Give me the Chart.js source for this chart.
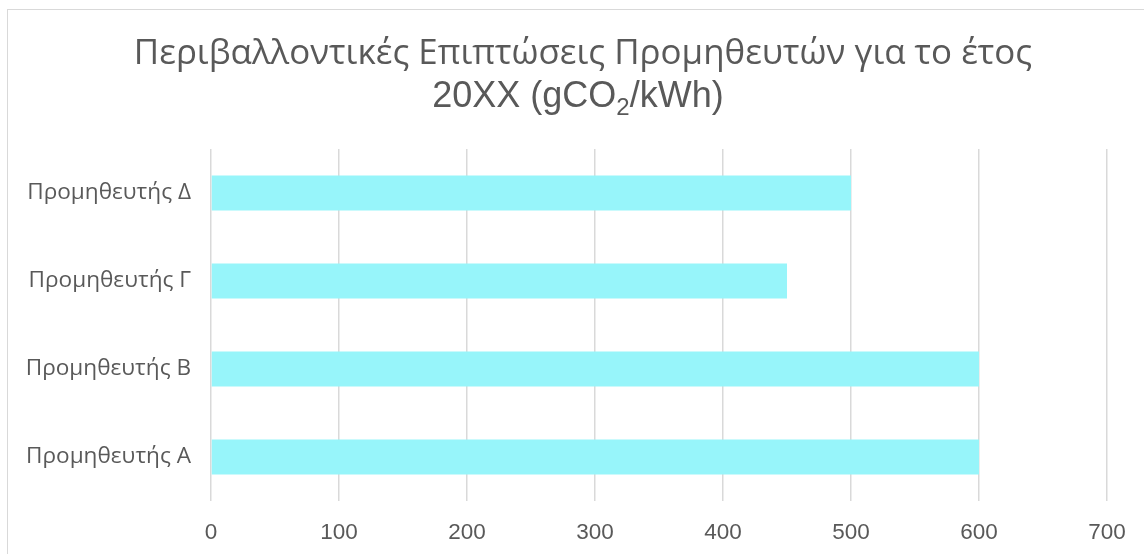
<!DOCTYPE html>
<html>
<head>
<meta charset="utf-8">
<script src="https://cdn.jsdelivr.net/npm/chart.js@4/dist/chart.umd.min.js"></script>
<style>
  html, body { margin: 0; padding: 0; background: #fff; overflow: hidden; }
  #frame {
    position: absolute; left: 7px; top: 9px; width: 1200px; height: 600px;
    border: 1.5px solid #d9d9d9; box-sizing: border-box;
  }
  #title {
    position: absolute; left: 7px; top: 29px; width: 1152px;
    text-align: center; color: #595959; z-index: 2;
  }
  #title .l1 { font-family: 'Open Sans', sans-serif; font-size: 34.9px; line-height: 44px; }
  #title .l2 { font-family: 'Liberation Sans', Arial, sans-serif; font-size: 36px; line-height: 44px; padding-right: 10px; }
  #title sub { font-size: 24px; line-height: 0; vertical-align: -8px; }
  #wrap { position: absolute; left: 0; top: 0; width: 1144px; height: 554px; }
</style>
</head>
<body>
<div id="frame"></div>
<div id="title">
  <div class="l1">Περιβαλλοντικές Επιπτώσεις Προμηθευτών για το έτος</div>
  <div class="l2">20XX (gCO<sub>2</sub>/kWh)</div>
</div>
<div id="wrap"><canvas id="chart"></canvas></div>
<script>
// categories top to bottom as shown
const suppliers = ['Προμηθευτής Δ', 'Προμηθευτής Γ', 'Προμηθευτής Β', 'Προμηθευτής Α'];
const emissions = [500, 450, 600, 600];
const xMin = 0;
const xMax = 700;
const xStep = 100;

const textGrey = '#595959';
const gridGrey = '#d9d9d9';

new Chart(document.getElementById('chart'), {
    type: 'bar',
    data: {
        labels: suppliers,
        datasets: [{
            label: 'gCO2/kWh',
            data: emissions,
            backgroundColor: '#97f5fa',
            borderWidth: 0,
            categoryPercentage: 1,
            barPercentage: 0.4
        }]
    },
    options: {
        indexAxis: 'y',
        responsive: true,
        maintainAspectRatio: false,
        animation: false,
        layout: { padding: { top: 149, right: 37, bottom: 0, left: 0 } },
        scales: {
            x: {
                min: xMin,
                max: xMax,
                ticks: {
                    stepSize: xStep,
                    color: textGrey,
                    padding: 18,
                    font: { family: "'Liberation Sans', Arial, sans-serif", size: 22.5 }
                },
                grid: { color: gridGrey, lineWidth: 1.5, drawTicks: false },
                border: { display: false },
                afterFit: (scale) => { scale.height = 53; }
            },
            y: {
                ticks: {
                    color: textGrey,
                    padding: 20,
                    font: { family: "'Open Sans', sans-serif", size: 22.6 }
                },
                grid: { display: false, drawTicks: false },
                border: { display: false },
                afterFit: (scale) => { scale.width = 211; }
            }
        },
        plugins: {
            legend: { display: false },
            title: { display: false },
            tooltip: { enabled: false }
        }
    }
});
</script>
</body>
</html>
